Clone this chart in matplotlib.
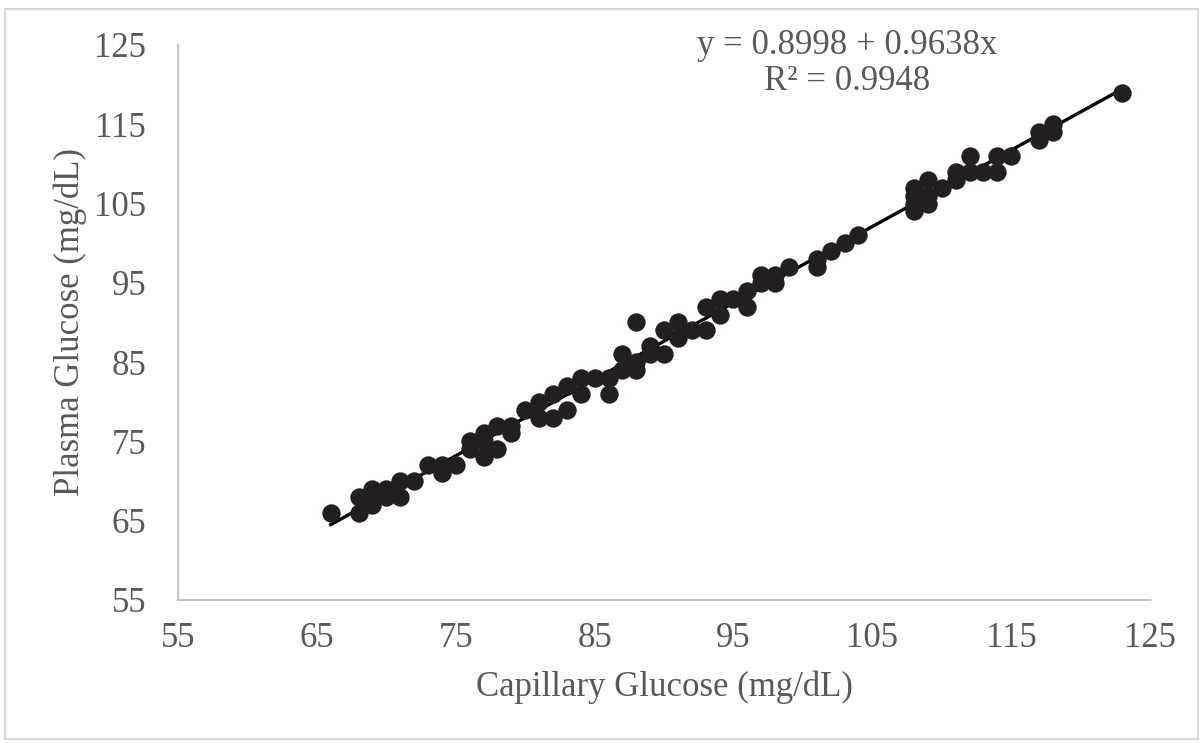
import matplotlib
matplotlib.use("Agg")
import matplotlib.pyplot as plt
from matplotlib.patches import Rectangle

capillary = [66, 68, 68, 69, 69, 70, 70, 71, 71, 72, 73, 74, 74, 75, 76, 76, 77, 77, 77,
             78, 78, 79, 79, 80, 81, 81, 82, 82, 83, 83, 84, 84, 85, 86, 86, 87, 87, 88,
             88, 88, 89, 89, 90, 90, 91, 91, 92, 93, 93, 94, 94, 95, 96, 96, 97, 97, 98,
             98, 99, 101, 101, 102, 103, 104, 108, 108, 108, 108, 109, 109, 109, 110, 111,
             111, 112, 112, 113, 114, 114, 115, 117, 117, 118, 118, 123]
plasma = [66, 68, 66, 69, 67, 69, 68, 70, 68, 70, 72, 71, 72, 72, 75, 74, 76, 73, 75,
          77, 74, 76, 77, 79, 80, 78, 81, 78, 82, 79, 83, 81, 83, 83, 81, 86, 84, 90,
          85, 84, 87, 86, 89, 86, 90, 88, 89, 92, 89, 93, 91, 93, 94, 92, 96, 95, 96,
          95, 97, 98, 97, 99, 100, 101, 107, 106, 105, 104, 108, 106, 105, 107, 109,
          108, 111, 109, 109, 111, 109, 111, 114, 113, 115, 114, 119]
intercept = 0.8998
slope = 0.9638
r2 = 0.9948
ticks = [55, 65, 75, 85, 95, 105, 115, 125]

plt.rcParams['font.family'] = ['Liberation Serif', 'DejaVu Serif']
gray = '#595959'

fig = plt.figure(figsize=(12.03, 7.43), dpi=100)
ax = fig.add_axes([0.148, 0.1925, 0.808, 0.747])

ax.scatter(capillary, plasma, s=175, color='#231F20', zorder=3, linewidths=0)
xs = [min(capillary), max(capillary)]
ys = [intercept + slope * v for v in xs]
ax.plot(xs, ys, color='black', lw=2.4, zorder=2)

ax.set_xlim(55, 125)
ax.set_ylim(55, 125)
ax.set_xticks(ticks)
ax.set_yticks(ticks)
ax.tick_params(length=0, labelsize=25, labelcolor=gray)
ax.tick_params(axis='x', pad=16)
ax.tick_params(axis='y', pad=23)
for s in ['top', 'right']:
    ax.spines[s].set_visible(False)
for s in ['left', 'bottom']:
    ax.spines[s].set_color('#BFBFBF')
    ax.spines[s].set_linewidth(1.3)

ax.set_xlabel('Capillary Glucose (mg/dL)', fontsize=25, color=gray, labelpad=11)
ax.set_ylabel('Plasma Glucose (mg/dL)', fontsize=25, color=gray, labelpad=5)

fig.text(0.704, 1 - 45 / 743, f'y = {intercept:.4f} + {slope:.4f}x',
         ha='center', va='center', fontsize=25, color=gray)
fig.text(0.704, 1 - 82 / 743, f'R² = {r2:.4f}',
         ha='center', va='center', fontsize=25, color=gray)

fig.patches.append(Rectangle((0.004, 0.006), 0.992, 0.982, transform=fig.transFigure,
                             fill=False, edgecolor='#D9D9D9', lw=1.5))

fig.savefig('out.png', dpi=100, facecolor='white')
